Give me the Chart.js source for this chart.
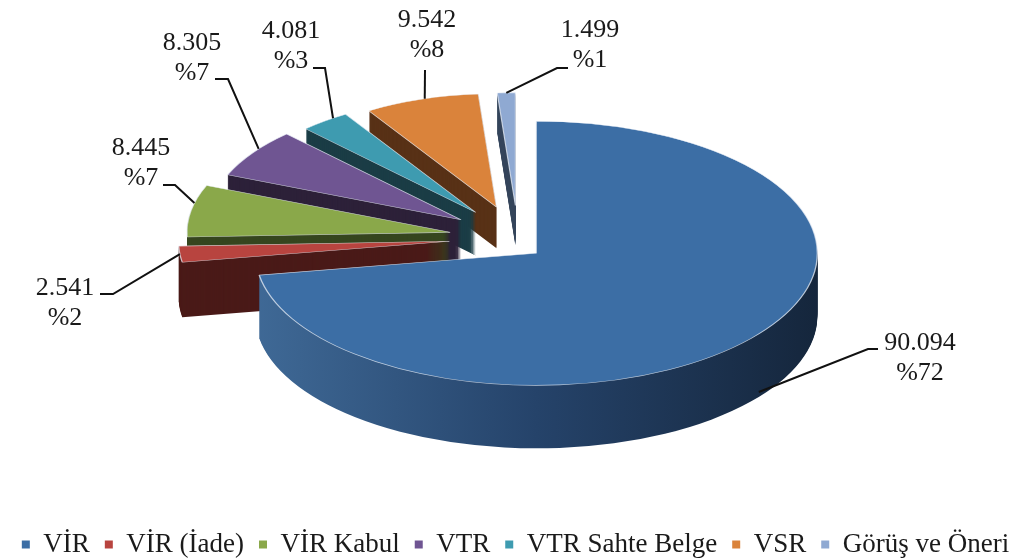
<!DOCTYPE html>
<html lang="tr">
<head>
    <meta charset="UTF-8">
    <title>Başvuru Dağılımı</title>
    <script src="https://cdn.jsdelivr.net/npm/chart.js@4.4.1/dist/chart.umd.min.js"></script>
    <style>
        html, body {
            margin: 0;
            padding: 0;
            background: #fff;
        }
        .chart-container {
            position: relative;
            width: 1031px;
            height: 559px;
        }
    </style>
</head>
<body>
    <div class="chart-container">
        <canvas id="pieChart"></canvas>
    </div>

    <script>
        const categories = ['VİR', 'VİR (İade)', 'VİR Kabul', 'VTR', 'VTR Sahte Belge', 'VSR', 'Görüş ve Öneri'];
        const counts = [90094, 2541, 8445, 8305, 4081, 9542, 1499];

        const topColors = ['#3c6ea5', '#b8443f', '#8aa84a', '#6f5592', '#3e9bb0', '#da833b', '#8fa9d2'];
        const sideColors = [null, '#4a1a18', '#36461f', '#2d2139', '#1b3d46', '#583116', '#36465c'];

        const total = counts.reduce((a, b) => a + b, 0);
        const fmt = n => String(n).replace(/\B(?=(\d{3})+(?!\d))/g, '.');

        // 3D look: ellipse squash and pie centre on the page
        const CX = 518, CY = 238, K = 0.47;

        // label text position (first baseline) and leader elbow points
        const labelLayout = [
            { x: 920, y: 350, path: [[878, 349], [868, 349]], at: 0.49, drop: 58 },
            { x: 65, y: 295, path: [[100, 294], [113, 294]], at: 0.5, drop: 0 },
            { x: 141, y: 155, path: [[163, 185], [175, 185]], at: 0.65, drop: 0 },
            { x: 192, y: 50, path: [[215, 79], [228, 79]], at: 0.6, drop: 0 },
            { x: 291, y: 38, path: [[313, 68], [325, 68]], at: 0.7, drop: 0 },
            { x: 427, y: 27, path: [[425, 70]], at: 0.53, drop: 0 },
            { x: 590, y: 37, path: [[568, 68], [557, 68]], at: 0.5, drop: 0 }
        ];

        function geom(arc, i) {
            const mid = (arc.startAngle + arc.endAngle) / 2;
            const dx = Math.cos(mid), dy = Math.sin(mid);
            const big = i === 0;
            const explode = big ? 24 : 69;
            return {
                vx: CX + explode * dx,
                vy: CY + explode * dy * K + (big ? 8 : 0),
                R: big ? 281 : 268 + 28 * dy,
                depth: 54 + 14 * dy,
                dy: dy
            };
        }

        function drawArcWith(ctx, arc, g, shift, opts) {
            const clone = Object.create(arc);
            clone.options = Object.assign({}, arc.options, opts);
            const s = g.R / arc.outerRadius;
            ctx.save();
            ctx.translate(g.vx, g.vy + shift);
            ctx.scale(s, s * K);
            ctx.translate(-arc.x, -arc.y);
            if (typeof opts.backgroundColor === 'function') {
                clone.options.backgroundColor = opts.backgroundColor(ctx, arc);
            }
            clone.draw(ctx);
            ctx.restore();
        }

        const blueSide = (ctx, arc) => {
            const gr = ctx.createLinearGradient(arc.x - arc.outerRadius, 0, arc.x + arc.outerRadius, 0);
            gr.addColorStop(0, '#3f6996');
            gr.addColorStop(0.5, '#25436a');
            gr.addColorStop(1, '#15263c');
            return gr;
        };

        const pie3d = {
            id: 'pie3d',
            afterLayout(chart) {
                // push the legend row a little lower
                chart.legend.top += 9;
                chart.legend.bottom += 9;
            },
            beforeDatasetsDraw(chart) {
                const ctx = chart.ctx;
                const arcs = chart.getDatasetMeta(0).data;
                const gs = arcs.map((a, i) => geom(a, i));
                const order = arcs.map((a, i) => i)
                    .sort((a, b) => (gs[a].vy + gs[a].R * 0.5 * gs[a].dy * K) - (gs[b].vy + gs[b].R * 0.5 * gs[b].dy * K));

                order.forEach(i => {
                    const arc = arcs[i], g = gs[i];
                    const side = i === 0 ? blueSide : sideColors[i];
                    for (let d = Math.round(g.depth); d >= 1; d--) {
                        drawArcWith(ctx, arc, g, d, { backgroundColor: side, borderWidth: 0 });
                    }
                    drawArcWith(ctx, arc, g, 0, {
                        backgroundColor: topColors[i],
                        borderWidth: 1.2,
                        borderColor: 'rgba(235,240,248,0.75)'
                    });
                });

                // data labels with leader lines
                ctx.save();
                ctx.font = '26px "Liberation Serif", "Times New Roman", serif';
                ctx.fillStyle = '#1a1a1a';
                ctx.textAlign = 'center';
                ctx.textBaseline = 'alphabetic';
                ctx.strokeStyle = '#111';
                ctx.lineWidth = 2;
                arcs.forEach((arc, i) => {
                    const g = gs[i], lay = labelLayout[i];
                    const a = arc.startAngle + (arc.endAngle - arc.startAngle) * lay.at;
                    const ex = g.vx + g.R * Math.cos(a);
                    const ey = g.vy + g.R * Math.sin(a) * K + lay.drop;
                    ctx.beginPath();
                    ctx.moveTo(lay.path[0][0], lay.path[0][1]);
                    lay.path.slice(1).forEach(p => ctx.lineTo(p[0], p[1]));
                    ctx.lineTo(ex, ey);
                    ctx.stroke();
                    ctx.fillText(fmt(counts[i]), lay.x, lay.y);
                    ctx.fillText('%' + Math.round(counts[i] / total * 100), lay.x, lay.y + 30);
                });
                ctx.restore();
                return false;
            }
        };

        new Chart(document.getElementById('pieChart'), {
            type: 'pie',
            data: {
                labels: categories,
                datasets: [{
                    data: counts,
                    backgroundColor: topColors,
                    borderWidth: 0
                }]
            },
            options: {
                responsive: true,
                maintainAspectRatio: false,
                animation: false,
                events: [],
                plugins: {
                    tooltip: { enabled: false },
                    legend: {
                        position: 'bottom',
                        labels: {
                            boxWidth: 8,
                            boxHeight: 8,
                            padding: 15,
                            color: '#1a1a1a',
                            font: { family: '"Liberation Serif", "Times New Roman", serif', size: 27 }
                        }
                    }
                }
            },
            plugins: [pie3d]
        });
    </script>
</body>
</html>
